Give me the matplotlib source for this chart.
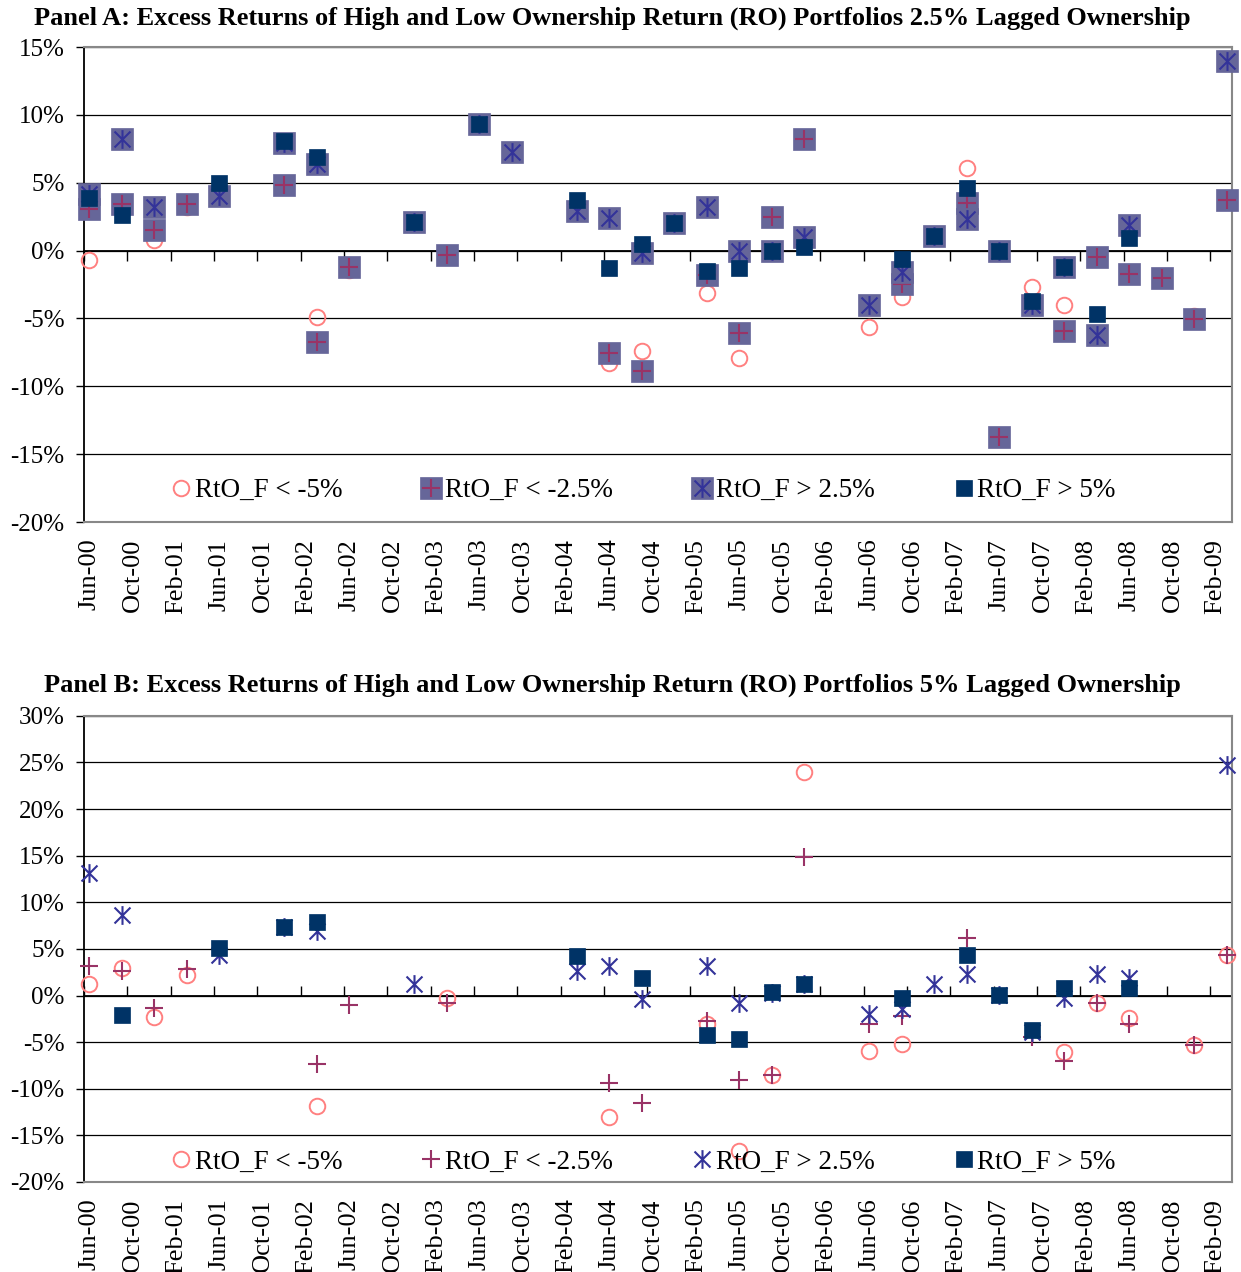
import matplotlib
matplotlib.use("Agg")
import matplotlib.pyplot as plt
import numpy as np
import pandas as pd
from matplotlib.path import Path
from matplotlib.lines import Line2D
from matplotlib.legend_handler import HandlerTuple
from matplotlib.ticker import FuncFormatter

plt.rcParams["font.family"] = ["Liberation Serif", "DejaVu Serif"]

nan = np.nan

quarters = ["Jun-00", "Sep-00", "Dec-00", "Mar-01", "Jun-01", "Sep-01", "Dec-01", "Mar-02",
            "Jun-02", "Sep-02", "Dec-02", "Mar-03", "Jun-03", "Sep-03", "Dec-03", "Mar-04",
            "Jun-04", "Sep-04", "Dec-04", "Mar-05", "Jun-05", "Sep-05", "Dec-05", "Mar-06",
            "Jun-06", "Sep-06", "Dec-06", "Mar-07", "Jun-07", "Sep-07", "Dec-07", "Mar-08",
            "Jun-08", "Sep-08", "Dec-08", "Mar-09"]

tick_labels = ["Jun-00", "Oct-00", "Feb-01", "Jun-01", "Oct-01", "Feb-02", "Jun-02", "Oct-02",
               "Feb-03", "Jun-03", "Oct-03", "Feb-04", "Jun-04", "Oct-04", "Feb-05", "Jun-05",
               "Oct-05", "Feb-06", "Jun-06", "Oct-06", "Feb-07", "Jun-07", "Oct-07", "Feb-08",
               "Jun-08", "Oct-08", "Feb-09"]

series_names = ["RtO_F < -5%", "RtO_F < -2.5%", "RtO_F > 2.5%", "RtO_F > 5%"]

# Panel A: 2.5% lagged ownership (excess returns, %)
a_lt5 = [-0.7, nan, 0.8, 3.2, nan, nan, nan, -4.9, -1.4, nan, nan, nan,
         nan, nan, nan, nan, -8.3, -7.4, nan, -3.1, -7.9, nan, nan, nan,
         -5.6, -3.45, nan, 6.1, nan, -2.7, -4.0, nan, nan, nan, -4.8, nan]
a_lt25 = [3.1, 3.4, 1.5, 3.4, nan, nan, 4.85, -6.7, -1.2, nan, nan, -0.3,
          nan, nan, nan, nan, -7.55, -8.9, nan, -1.8, -6.05, 2.45, 8.2, nan,
          nan, -2.45, nan, 3.5, -13.7, nan, -5.9, -0.5, -1.7, -2.0, -5.05, 3.75]
a_gt25 = [4.2, 8.2, 3.25, nan, 4.0, nan, 7.9, 6.4, nan, nan, 2.1, nan,
          9.3, 7.3, nan, 2.9, 2.4, -0.2, 2.0, 3.2, 0.0, 0.0, 1.0, nan,
          -4.0, -1.6, 1.1, 2.35, 0.0, -4.0, -1.2, -6.2, 1.9, nan, nan, 14.0]
a_gt5 = [3.9, 2.6, nan, nan, 5.0, nan, 8.1, 6.9, nan, nan, 2.1, nan,
         9.3, nan, nan, 3.75, -1.3, 0.5, 2.0, -1.5, -1.25, 0.0, 0.3, nan,
         nan, -0.6, 1.1, 4.65, 0.0, -3.7, -1.2, -4.65, 0.95, nan, nan, nan]

# Panel B: 5% lagged ownership (excess returns, %)
b_lt5 = [1.25, 2.95, -2.3, 2.25, nan, nan, nan, -11.9, nan, nan, nan, -0.3,
         nan, nan, nan, nan, -13.05, nan, nan, -3.1, -16.7, -8.55, 24.0, nan,
         -5.9, -5.2, nan, nan, nan, nan, -6.1, -0.8, -2.4, nan, -5.3, 4.4]
b_lt25 = [3.2, 2.6, -1.3, 2.8, nan, nan, nan, -7.35, -1.05, nan, nan, -0.8,
          nan, nan, nan, nan, -9.4, -11.5, nan, -2.75, -9.1, -8.55, 14.9, nan,
          -3.1, -2.2, nan, 6.2, nan, -4.45, -7.0, -0.8, -3.1, nan, -5.3, 4.4]
b_gt25 = [13.1, 8.6, nan, nan, 4.4, nan, 7.3, 6.9, nan, nan, 1.25, nan,
          nan, nan, nan, 2.6, 3.2, -0.4, nan, 3.2, -0.8, 0.3, 1.2, nan,
          -2.0, -1.5, 1.25, 2.3, 0.1, -3.9, -0.25, 2.3, 1.9, nan, nan, 24.7]
b_gt5 = [nan, -2.1, nan, nan, 5.1, nan, 7.4, 7.85, nan, nan, nan, nan,
         nan, nan, nan, 4.2, nan, 1.85, nan, -4.25, -4.7, 0.35, 1.25, nan,
         nan, -0.3, nan, 4.4, 0.1, -3.75, 0.8, nan, 0.8, nan, nan, nan]

C_CIRCLE = "#ff8080"
C_PLUS = "#993366"
C_STAR = "#333399"
C_NAVY = "#003366"
C_BOX = "#666699"

# excel "star" marker: an x with a vertical stroke
STAR = Path([(0, -1), (0, 1), (-0.85, -0.85), (0.85, 0.85), (-0.85, 0.85), (0.85, -0.85)],
            [Path.MOVETO, Path.LINETO] * 3)

# month index since Jun-00
dates = pd.to_datetime(quarters, format="%b-%y")
x = np.array((dates.year - 2000) * 12 + dates.month - 6)
n_months = 106


def style(kind, boxed):
    if kind == 0:
        return [dict(marker="o", ms=11.2, mfc="none", mec=C_CIRCLE, mew=1.4)]
    if kind == 1:
        fg = dict(marker="+", ms=12.5, mec=C_PLUS, mew=1.5)
    elif kind == 2:
        fg = dict(marker=STAR, ms=13.5, mfc="none", mec=C_STAR, mew=1.5)
    else:
        return [dict(marker="s", ms=11.5, mfc=C_NAVY, mec=C_NAVY, mew=0.5)]
    if boxed:
        return [dict(marker="s", ms=15.5, mfc=C_BOX, mec=C_BOX, mew=0.5), fg]
    return [fg]


def panel(ax, data, ylim, boxed, title, title_y, leg_y):
    ax.set_xlim(-0.5, n_months - 0.5)
    ax.set_ylim(*ylim)
    ax.set_yticks(np.arange(ylim[0], ylim[1] + 1, 5))
    ax.yaxis.set_major_formatter(FuncFormatter(lambda v, p: f"{int(round(v))}%"))
    ax.tick_params(axis="y", length=6, width=1, labelsize=18, pad=8, color="black")
    ax.yaxis.grid(True, color="black", lw=0.9)
    ax.set_axisbelow(True)

    ax.set_xticks(np.arange(0, n_months, 4))
    ax.set_xticklabels(tick_labels, rotation=90, fontsize=19)
    ax.tick_params(axis="x", length=0, pad=12)

    for s in ["top", "right", "bottom"]:
        ax.spines[s].set_color("#888888")
        ax.spines[s].set_linewidth(1.5)
    ax.spines["left"].set_color("black")
    ax.spines["left"].set_linewidth(1.3)

    # category axis crosses at 0 with its own tick marks
    frac0 = (0 - ylim[0]) / (ylim[1] - ylim[0])
    sec = ax.secondary_xaxis(frac0)
    sec.set_xticks(np.arange(0, n_months, 4) - 0.5)
    sec.tick_params(axis="x", direction="in", length=7, width=1, labeltop=False,
                    labelbottom=False, color="black")
    for sp in sec.spines.values():
        sp.set_color("black")
        sp.set_linewidth(1.3)

    handles = []
    z = 3
    for kind, vals in enumerate(data):
        parts = []
        for st in style(kind, boxed):
            ax.plot(x, vals, ls="none", zorder=z, clip_on=False, **st)
            z += 1
            parts.append(Line2D([], [], ls="none", **st))
        handles.append(tuple(parts))

    ax.legend(handles, series_names, handler_map={tuple: HandlerTuple(ndivide=1)},
              loc="center", bbox_to_anchor=(0.487, leg_y), ncol=4, frameon=False,
              fontsize=19.5, handlelength=0.8, handletextpad=0.1, columnspacing=2.9,
              borderaxespad=0)

    ax.figure.text(0.4936, title_y, title, ha="center", va="center",
                   fontsize=19, fontweight="bold")


fig = plt.figure(figsize=(12.41, 12.72), dpi=100)
axA = fig.add_axes([0.0677, 0.5896, 0.925, 0.3734])
axB = fig.add_axes([0.0677, 0.0708, 0.925, 0.3664])

panel(axA, [a_lt5, a_lt25, a_gt25, a_gt5], (-20, 15), True,
      "Panel A: Excess Returns of High and Low Ownership Return (RO) Portfolios 2.5% Lagged Ownership",
      0.9858, 0.066)
panel(axB, [b_lt5, b_lt25, b_gt25, b_gt5], (-20, 30), False,
      "Panel B: Excess Returns of High and Low Ownership Return (RO) Portfolios 5% Lagged Ownership",
      0.4615, 0.043)

fig.savefig("out.png", dpi=100)
